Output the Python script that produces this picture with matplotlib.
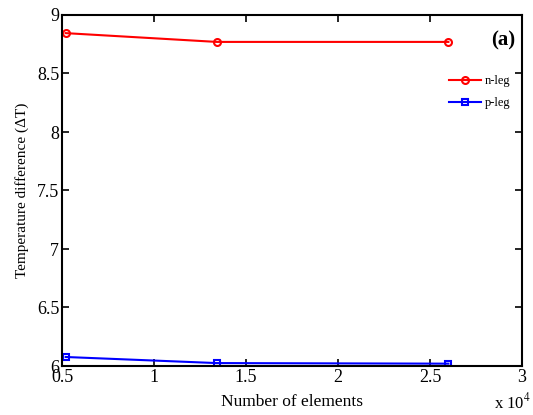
import numpy as np
import matplotlib
matplotlib.use("Agg")
import matplotlib.pyplot as plt
from matplotlib.ticker import FuncFormatter

plt.rcParams['font.family'] = ['Liberation Serif', 'DejaVu Serif']
plt.rcParams['mathtext.fontset'] = 'stix'

# data
elements = [5200, 13400, 26000]
n_leg = [8.845, 8.77, 8.77]
p_leg = [6.077, 6.025, 6.02]

fig = plt.figure(figsize=(5.33, 4.15), dpi=100)
ax = fig.add_axes([62 / 533, 1 - 366 / 415, 460 / 533, 351 / 415])

ax.plot(elements, n_leg, '-o', color='red', lw=1.5, ms=5, mfc='none', mew=1.5, label='n-leg')
ax.plot(elements, p_leg, '-s', color='blue', lw=1.5, ms=4.5, mfc='none', mew=1.5, label='p-leg')

ax.set_xlim(5000, 30000)
ax.set_ylim(6, 9)
ax.set_xticks([5000, 10000, 15000, 20000, 25000, 30000])
ax.xaxis.set_major_formatter(FuncFormatter(lambda v, p: '%g' % (v / 1e4)))
ax.set_yticks([6, 6.5, 7, 7.5, 8, 8.5, 9])
ax.yaxis.set_major_formatter(FuncFormatter(lambda v, p: '%g' % v))
ax.tick_params(direction='in', top=True, right=True, labelsize=13, length=5, width=1.2, pad=2)
for s in ax.spines.values():
    s.set_linewidth(1.5)

ax.set_xlabel('Number of elements', fontsize=12.5, labelpad=6)
ax.set_ylabel('Temperature difference (ΔT)', fontsize=11, labelpad=6)
fig.text(531 / 533, 1 - 392 / 415, 'x 10$^4$', fontsize=12, ha='right', va='top')
ax.text(0.985, 0.955, '(a)', transform=ax.transAxes, fontsize=15, fontweight='bold', ha='right', va='top')

ax.legend(loc='upper right', bbox_to_anchor=(1.0, 0.86), frameon=False, fontsize=9,
          handlelength=2.6, labelspacing=0.8, handletextpad=0.3)

fig.savefig('out.png', dpi=100)
